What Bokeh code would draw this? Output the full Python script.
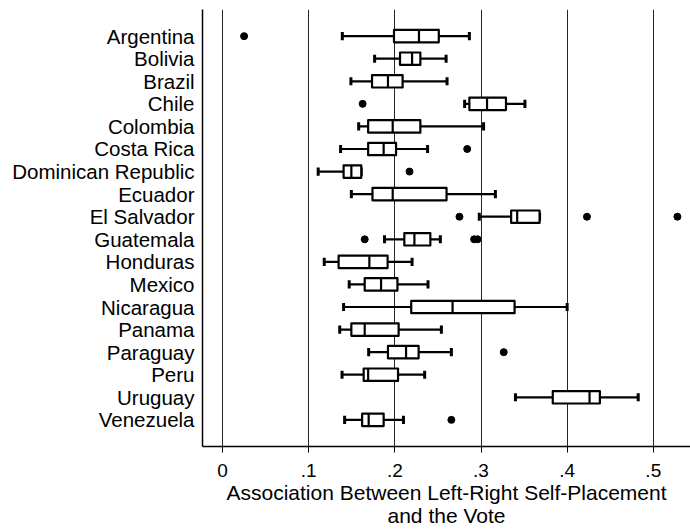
from bokeh.plotting import figure
from bokeh.models import Range1d, FixedTicker, ColumnDataSource
from bokeh.embed import file_html
from bokeh.resources import INLINE

countries = ["Argentina", "Bolivia", "Brazil", "Chile", "Colombia", "Costa Rica",
             "Dominican Republic", "Ecuador", "El Salvador", "Guatemala", "Honduras",
             "Mexico", "Nicaragua", "Panama", "Paraguay", "Peru", "Uruguay", "Venezuela"]
whisker_low = [0.139, 0.1765, 0.149, 0.281, 0.158, 0.137, 0.111, 0.1495, 0.298, 0.188,
               0.118, 0.147, 0.1405, 0.136, 0.1696, 0.1387, 0.340, 0.1417]
q1 = [0.199, 0.206, 0.1735, 0.2865, 0.169, 0.169, 0.1405, 0.174, 0.335, 0.211,
      0.1347, 0.165, 0.219, 0.1495, 0.192, 0.1638, 0.3833, 0.162]
median = [0.228, 0.220, 0.192, 0.307, 0.1975, 0.187, 0.1495, 0.1975, 0.342, 0.2227,
          0.1704, 0.184, 0.267, 0.165, 0.213, 0.169, 0.426, 0.1696]
q3 = [0.251, 0.2296, 0.209, 0.329, 0.2296, 0.2014, 0.161, 0.260, 0.368, 0.2412,
      0.1916, 0.203, 0.339, 0.2044, 0.2276, 0.2037, 0.438, 0.187]
whisker_high = [0.2865, 0.2595, 0.2606, 0.351, 0.303, 0.238, 0.161, 0.3167, 0.368, 0.2528,
                0.220, 0.2385, 0.400, 0.254, 0.2656, 0.2346, 0.4825, 0.210]
outlier_country = ["Argentina", "Chile", "Costa Rica", "Dominican Republic", "El Salvador",
                   "El Salvador", "El Salvador", "Guatemala", "Guatemala", "Guatemala",
                   "Paraguay", "Venezuela"]
outlier_value = [0.025, 0.1626, 0.284, 0.217, 0.275, 0.423, 0.528, 0.165, 0.292, 0.296,
                 0.3264, 0.2656]
x_ticks = [0, 0.1, 0.2, 0.3, 0.4, 0.5]
x_tick_labels = ["0", ".1", ".2", ".3", ".4", ".5"]
x_title = "Association Between Left-Right Self-Placement\nand the Vote"

FONT = "Liberation Sans"
ypos = list(range(len(countries)))
BOX_H = 0.55
CAP_H = 0.36

p = figure(width=690, height=530, output_backend="svg", toolbar_location=None,
           x_range=Range1d(-0.0233, 0.5432),
           y_range=Range1d(len(countries) - 1 + 1.18, -1.18),
           min_border_left=202, min_border_right=0, min_border_top=9, min_border_bottom=84)
p.outline_line_color = None
p.background_fill_color = "white"
p.border_fill_color = "white"

# grid
p.ygrid.grid_line_color = None
p.xgrid.ticker = FixedTicker(ticks=x_ticks)
p.xgrid.grid_line_color = "black"
p.xgrid.grid_line_width = 1
p.xgrid.grid_line_alpha = 0.85

# x axis
p.xaxis.ticker = FixedTicker(ticks=x_ticks)
p.xaxis.major_label_overrides = {t: l for t, l in zip(x_ticks, x_tick_labels)}
p.xaxis.major_label_text_font = FONT
p.xaxis.major_label_text_font_size = "19px"
p.xaxis.major_label_text_color = "black"
p.xaxis.major_tick_out = 6
p.xaxis.major_tick_in = 0
p.xaxis.minor_tick_line_color = None
p.xaxis.major_tick_line_color = "black"
p.xaxis.axis_line_color = "black"
p.xaxis.axis_line_width = 1.5
p.xaxis.major_label_standoff = 11
p.xaxis.axis_label = x_title
p.xaxis.axis_label_text_font = FONT
p.xaxis.axis_label_text_font_size = "21px"
p.xaxis.axis_label_text_font_style = "normal"
p.xaxis.axis_label_text_color = "black"
p.xaxis.axis_label_text_line_height = 1.02
p.xaxis.axis_label_standoff = 1

# y axis
p.yaxis.ticker = FixedTicker(ticks=ypos)
p.yaxis.major_label_overrides = {i: c for i, c in zip(ypos, countries)}
p.yaxis.major_label_text_font = FONT
p.yaxis.major_label_text_font_size = "20.5px"
p.yaxis.major_label_text_color = "black"
p.yaxis.major_tick_out = 0
p.yaxis.major_tick_in = 0
p.yaxis.minor_tick_line_color = None
p.yaxis.axis_line_color = "black"
p.yaxis.axis_line_width = 1.5
p.yaxis.major_label_standoff = 8

src = ColumnDataSource(dict(y=ypos, lo=whisker_low, q1=q1, med=median, q3=q3, hi=whisker_high,
                            yb=[y - BOX_H / 2 for y in ypos], yt=[y + BOX_H / 2 for y in ypos],
                            cb=[y - CAP_H / 2 for y in ypos], ct=[y + CAP_H / 2 for y in ypos]))

# whiskers
p.segment(x0="lo", y0="y", x1="q1", y1="y", source=src, line_color="black", line_width=2.2)
p.segment(x0="q3", y0="y", x1="hi", y1="y", source=src, line_color="black", line_width=2.2)
# caps
p.segment(x0="lo", y0="cb", x1="lo", y1="ct", source=src, line_color="black", line_width=3)
p.segment(x0="hi", y0="cb", x1="hi", y1="ct", source=src, line_color="black", line_width=3)
# boxes
p.hbar(y="y", left="q1", right="q3", height=BOX_H, source=src, fill_color="white",
       line_color="black", line_width=2.2, line_join="round")
# medians
p.segment(x0="med", y0="yb", x1="med", y1="yt", source=src, line_color="black", line_width=2.2)

# outliers
oy = [countries.index(c) for c in outlier_country]
p.scatter(x=outlier_value, y=oy, marker="circle", size=7, fill_color="black", line_color="black")

open("out.html", "w").write(file_html(p, INLINE))
